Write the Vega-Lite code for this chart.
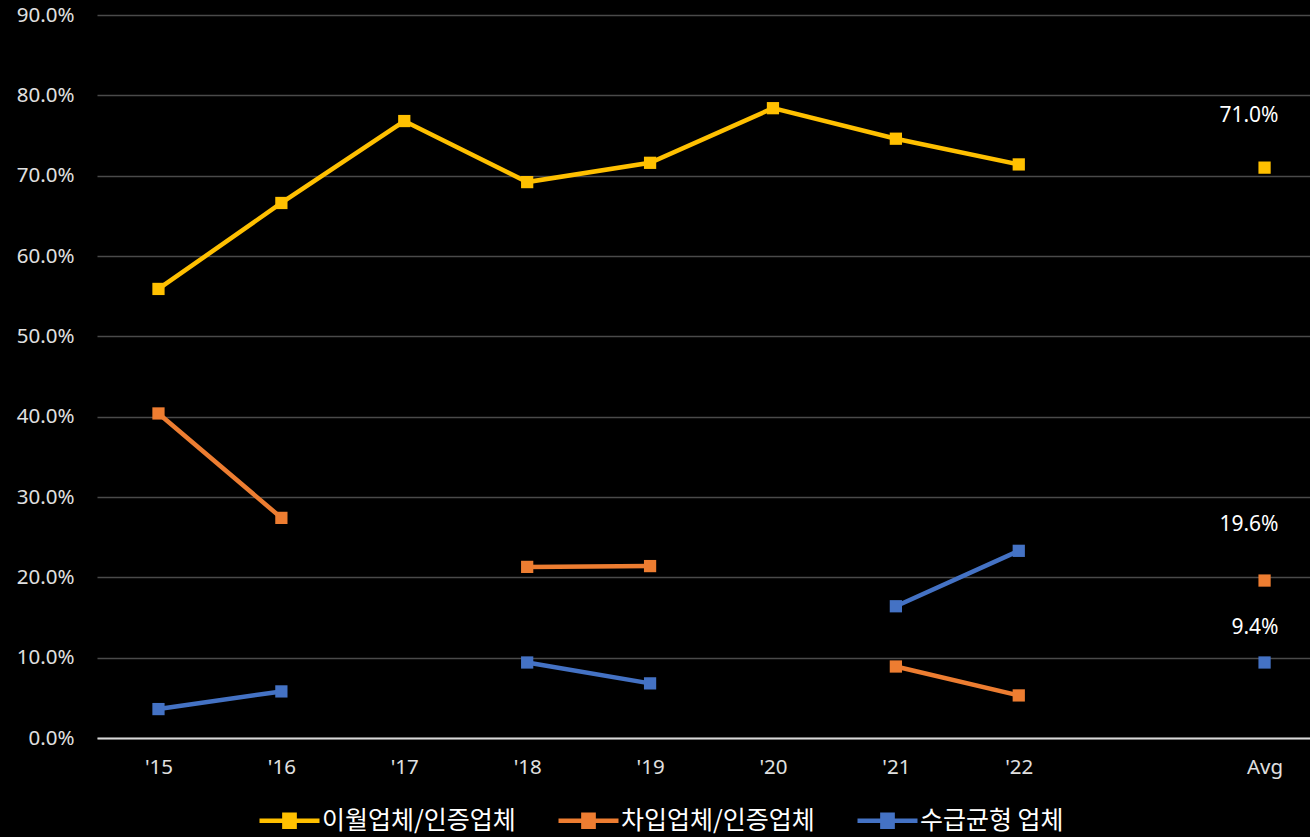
{
  "$schema": "https://vega.github.io/schema/vega-lite/v6.json",
  "width": 1213,
  "height": 723,
  "autosize": {"type": "none"},
  "padding": {"left": 97, "top": 15, "right": 0, "bottom": 99},
  "background": "#000000",
  "config": {
    "view": {"stroke": null},
    "font": "Noto Sans",
    "axis": {"labelFont": "Noto Sans", "labelColor": "#E0E0E0", "labelFontSize": 20.5, "ticks": false}
  },
  "data": {
    "values": [
      {"year": "'15", "series": "이월업체/인증업체", "value": 0.559},
      {"year": "'16", "series": "이월업체/인증업체", "value": 0.666},
      {"year": "'17", "series": "이월업체/인증업체", "value": 0.768},
      {"year": "'18", "series": "이월업체/인증업체", "value": 0.692},
      {"year": "'19", "series": "이월업체/인증업체", "value": 0.716},
      {"year": "'20", "series": "이월업체/인증업체", "value": 0.784},
      {"year": "'21", "series": "이월업체/인증업체", "value": 0.746},
      {"year": "'22", "series": "이월업체/인증업체", "value": 0.714},
      {"year": " ", "series": "이월업체/인증업체", "value": null},
      {"year": "Avg", "series": "이월업체/인증업체", "value": 0.710},
      {"year": "'15", "series": "차입업체/인증업체", "value": 0.404},
      {"year": "'16", "series": "차입업체/인증업체", "value": 0.274},
      {"year": "'17", "series": "차입업체/인증업체", "value": null},
      {"year": "'18", "series": "차입업체/인증업체", "value": 0.213},
      {"year": "'19", "series": "차입업체/인증업체", "value": 0.214},
      {"year": "'20", "series": "차입업체/인증업체", "value": null},
      {"year": "'21", "series": "차입업체/인증업체", "value": 0.089},
      {"year": "'22", "series": "차입업체/인증업체", "value": 0.053},
      {"year": " ", "series": "차입업체/인증업체", "value": null},
      {"year": "Avg", "series": "차입업체/인증업체", "value": 0.196},
      {"year": "'15", "series": "수급균형 업체", "value": 0.036},
      {"year": "'16", "series": "수급균형 업체", "value": 0.058},
      {"year": "'17", "series": "수급균형 업체", "value": null},
      {"year": "'18", "series": "수급균형 업체", "value": 0.094},
      {"year": "'19", "series": "수급균형 업체", "value": 0.068},
      {"year": "'20", "series": "수급균형 업체", "value": null},
      {"year": "'21", "series": "수급균형 업체", "value": 0.164},
      {"year": "'22", "series": "수급균형 업체", "value": 0.233},
      {"year": " ", "series": "수급균형 업체", "value": null},
      {"year": "Avg", "series": "수급균형 업체", "value": 0.094}
    ]
  },
  "encoding": {
    "x": {
      "field": "year",
      "type": "ordinal",
      "sort": ["'15", "'16", "'17", "'18", "'19", "'20", "'21", "'22", " ", "Avg"],
      "scale": {"type": "point", "padding": 0.435, "align": 0.575},
      "axis": {"title": null, "labelAngle": 0, "labelPadding": 19, "domainColor": "#D9D9D9", "domainWidth": 2, "grid": false}
    },
    "y": {
      "field": "value",
      "type": "quantitative",
      "scale": {"domain": [0, 0.9], "nice": false},
      "axis": {"title": null, "format": ".1%", "values": [0, 0.1, 0.2, 0.3, 0.4, 0.5, 0.6, 0.7, 0.8, 0.9], "domain": false, "labelPadding": 23, "gridColor": "#4A4A4A", "gridWidth": 1.5}
    },
    "color": {
      "field": "series",
      "type": "nominal",
      "scale": {"domain": ["이월업체/인증업체", "차입업체/인증업체", "수급균형 업체"], "range": ["#FFC000", "#ED7D31", "#4472C4"]},
      "legend": {
        "title": null,
        "orient": "none",
        "legendX": 160,
        "legendY": 773,
        "direction": "horizontal",
        "symbolType": "M-1,0H1M-0.17,-0.2H0.17V0.2H-0.17Z",
        "symbolSize": 3600,
        "symbolStrokeWidth": 4.5,
        "symbolOpacity": 1,
        "labelFont": "Noto Sans CJK KR",
        "labelFontSize": 25,
        "labelColor": "#FFFFFF",
        "labelOffset": 0,
        "columnPadding": 33,
        "labelLimit": 400
      }
    }
  },
  "layer": [
    {
      "mark": {"type": "line", "strokeWidth": 4.5},
      "encoding": {}
    },
    {
      "mark": {"type": "point", "shape": "square", "filled": true, "size": 150, "opacity": 1},
      "encoding": {}
    },
    {
      "transform": [{"filter": "datum.year == 'Avg' && datum.series == '이월업체/인증업체'"}],
      "mark": {"type": "text", "align": "right", "dx": 14, "dy": -52, "fontSize": 21, "font": "Noto Sans"},
      "encoding": {"text": {"field": "value", "type": "quantitative", "format": ".1%"}, "color": {"value": "#FFFFFF"}}
    },
    {
      "transform": [{"filter": "datum.year == 'Avg' && datum.series == '차입업체/인증업체'"}],
      "mark": {"type": "text", "align": "right", "dx": 14, "dy": -56, "fontSize": 21, "font": "Noto Sans"},
      "encoding": {"text": {"field": "value", "type": "quantitative", "format": ".1%"}, "color": {"value": "#FFFFFF"}}
    },
    {
      "transform": [{"filter": "datum.year == 'Avg' && datum.series == '수급균형 업체'"}],
      "mark": {"type": "text", "align": "right", "dx": 14, "dy": -34, "fontSize": 21, "font": "Noto Sans"},
      "encoding": {"text": {"field": "value", "type": "quantitative", "format": ".1%"}, "color": {"value": "#FFFFFF"}}
    }
  ]
}
